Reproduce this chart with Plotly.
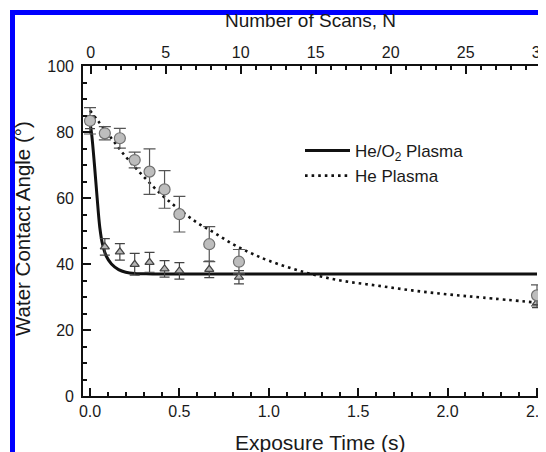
import plotly.graph_objects as go

# ---- data ----
exposure_time = [0, 0.083, 0.167, 0.25, 0.333, 0.417, 0.5, 0.667, 0.833, 2.5]
scans = [0, 1, 2, 3, 4, 5, 6, 8, 10, 30]

heo2_angle = [83.0, 45.2, 43.7, 39.9, 40.5, 38.5, 37.9, 38.4, 36.0, 28.3]
heo2_err = [2.0, 2.5, 2.5, 3.3, 3.0, 2.5, 2.5, 2.5, 2.0, 1.5]

he_angle = [83.4, 79.6, 78.1, 71.5, 68.0, 62.6, 55.1, 46.0, 40.7, 30.5]
he_err = [4.0, 2.0, 3.0, 2.4, 6.9, 5.7, 5.4, 5.3, 3.7, 3.2]

# fit curves
heo2_fit_t = [0, 0.01, 0.025, 0.04, 0.055, 0.07, 0.09, 0.12, 0.16, 0.2, 0.25, 0.35, 1.0, 2.5]
heo2_fit_y = [83, 79, 70, 60, 51, 46, 42.5, 40, 38.3, 37.5, 37.1, 37, 37, 37]

he_fit_t = [0, 0.1, 0.2, 0.3, 0.4, 0.5, 0.6, 0.7, 0.8, 0.9, 1.0, 1.2, 1.4, 1.6, 1.8, 2.0, 2.2, 2.5]
he_fit_y = [86.5, 79.5, 72.5, 66.5, 61, 56.5, 52.5, 49.3, 46, 43.3, 41, 37.5, 35, 33.5, 32, 30.8, 29.8, 28.3]

x_ticks = [0.0, 0.5, 1.0, 1.5, 2.0, 2.5]
y_ticks = [0, 20, 40, 60, 80, 100]
n_ticks = [0, 5, 10, 15, 20, 25, 30]

FONT = "Arial, Liberation Sans, sans-serif"
TXT = "#1a1a1a"

OFF = 8  # page body margin: figure origin sits 8px right/down of the window origin
W, H = 546, 452
L, R, T, B = 75, 0, 58, 64
PW, PH = W - L - R, H - T - B


def px(x):  # reference window pixel -> paper
    return (x - OFF - L) / PW


def py(y):
    return (H - B - (y - OFF)) / PH


fig = go.Figure()

fig.add_trace(go.Scatter(
    x=heo2_fit_t, y=heo2_fit_y, mode="lines", name="He/O<sub>2</sub> Plasma",
    line=dict(color="#111111", width=3, shape="spline")))
fig.add_trace(go.Scatter(
    x=he_fit_t, y=he_fit_y, mode="lines", name="He Plasma",
    line=dict(color="#111111", width=2.6, dash="2.6px,4px", shape="spline")))

fig.add_trace(go.Scatter(
    x=exposure_time, y=heo2_angle, mode="markers", showlegend=False,
    error_y=dict(type="data", array=heo2_err, color="#444444", thickness=1.2, width=5),
    marker=dict(symbol="triangle-up", size=8, color="#b5b5b5",
                line=dict(color="#444444", width=1.2))))
fig.add_trace(go.Scatter(
    x=exposure_time, y=he_angle, mode="markers", showlegend=False,
    error_y=dict(type="data", array=he_err, color="#555555", thickness=1.2, width=6),
    marker=dict(symbol="circle", size=11, color="#bdbdbd",
                line=dict(color="#707070", width=1.2))))

# invisible trace to carry the top (scan number) axis
fig.add_trace(go.Scatter(
    x=scans, y=he_angle, xaxis="x2", mode="markers", showlegend=False,
    marker=dict(opacity=0), hoverinfo="skip"))

axis_common = dict(
    showline=True, linecolor="#111111", linewidth=1.6,
    ticks="inside", ticklen=8, tickwidth=2, tickcolor="#111111",
    showgrid=False, zeroline=False,
    tickfont=dict(family=FONT, size=16, color=TXT),
)

# axis ranges from pixel readings: t=0 at x=90, 178.8 px per second; N=0 at x=90.7, 15 px per scan
t_lo, t_hi = (L + OFF - 90) / 178.8, (W + OFF - 90) / 178.8
n_lo, n_hi = (L + OFF - 90.7) / 15, (W + OFF - 90.7) / 15

fig.update_layout(
    width=W, height=H,
    margin=dict(l=L, r=R, t=T, b=B),
    paper_bgcolor="white", plot_bgcolor="white",
    showlegend=True,
    legend=dict(x=px(300), y=py(133), xanchor="left", yanchor="top",
                bgcolor="rgba(0,0,0,0)", traceorder="normal",
                itemwidth=45,
                font=dict(family=FONT, size=17, color=TXT)),
    xaxis=dict(range=[t_lo, t_hi], tickvals=x_ticks,
               ticktext=[f"{v:.1f}" for v in x_ticks],
               minor=dict(dtick=0.1, tick0=0, ticks="inside", ticklen=4,
                          tickwidth=2, tickcolor="#111111"),
               **axis_common),
    xaxis2=dict(range=[n_lo, n_hi], overlaying="x", side="top",
                tickvals=n_ticks,
                minor=dict(dtick=1, tick0=0, ticks="inside", ticklen=4,
                           tickwidth=2, tickcolor="#111111"),
                **axis_common),
    yaxis=dict(range=[0, 100], tickvals=y_ticks,
               minor=dict(dtick=5, tick0=0, ticks="inside", ticklen=4,
                          tickwidth=2, tickcolor="#111111"),
               ticklabelstandoff=4,
               **axis_common),
    annotations=[
        dict(text="Exposure Time (s)", xref="paper", yref="paper",
             x=px(320), y=py(442), xanchor="center", yanchor="middle",
             showarrow=False, font=dict(family=FONT, size=21, color=TXT)),
        dict(text="Number of Scans, N", xref="paper", yref="paper",
             x=px(310), y=py(21), xanchor="center", yanchor="middle",
             showarrow=False, font=dict(family=FONT, size=19, color=TXT)),
        dict(text="Water Contact Angle (°)", xref="paper", yref="paper",
             x=px(22), y=py(229), xanchor="center", yanchor="middle",
             showarrow=False, textangle=-90,
             font=dict(family=FONT, size=20.5, color=TXT)),
    ],
    shapes=[
        dict(type="rect", xref="paper", yref="paper",
             x0=px(12.5), y1=py(12.5), x1=px(620), y0=py(540),
             line=dict(color="#0000ff", width=5), fillcolor="rgba(0,0,0,0)"),
    ],
)

fig.write_html("out.html")
